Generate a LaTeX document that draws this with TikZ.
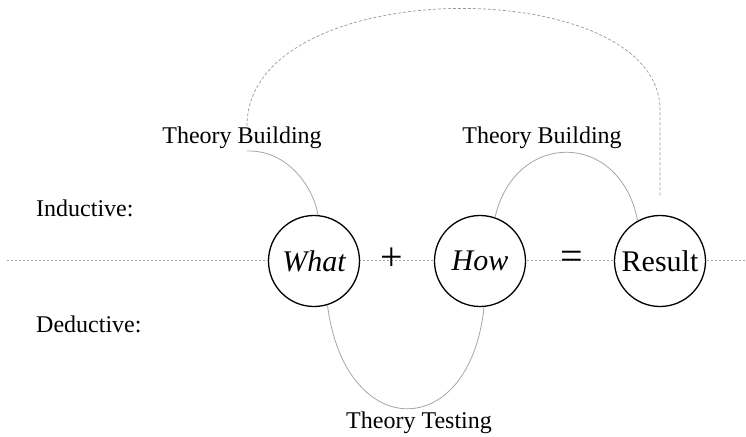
\documentclass[tikz,border=0pt]{standalone}
\usepackage{fontspec}
\setmainfont{Liberation Serif}
\begin{document}
\begin{tikzpicture}[x=1pt,y=-1pt,
  circ/.style={circle,draw=black,line width=1.3pt,fill=white,minimum size=91pt,inner sep=0pt,font=\fontsize{30}{34}\selectfont},
  lbl/.style={anchor=base,inner sep=0pt,font=\fontsize{24}{28}\selectfont},
  sidelbl/.style={anchor=base west,inner sep=0pt,font=\fontsize{24}{28}\selectfont},
  op/.style={inner sep=0pt,font=\fontsize{40}{44}\selectfont},
  axis/.style={draw=gray!70,line width=0.7pt,dash pattern=on 2pt off 2pt},
  loop/.style={draw=gray!80,line width=0.7pt,dash pattern=on 3pt off 2pt},
  arc/.style={draw=gray!70,line width=0.8pt}]
\useasboundingbox (0,0) rectangle (746,436);
% horizontal axis
\coordinate (axL) at (7,260);
\coordinate (axR) at (746,260);
\draw[axis] (axL) -- (axR);
% circles
\node[circ] (what) at (314,261) {\itshape What};
\node[circ] (how) at (480,261) {\itshape How};
\node[circ] (res) at (660,261) {Result};
\node[op] (plus) at (392,259) {+};
\node[op] (eq) at (572,260) {=};
% labels
\node[lbl] (tb1) at (242,143) {Theory Building};
\node[lbl] (tb2) at (542,143) {Theory Building};
\node[lbl] (tt) at (419,428) {Theory Testing};
\node[sidelbl] (ind) at (36,216) {Inductive:};
\node[sidelbl] (ded) at (36,332) {Deductive:};
% connectors
\coordinate (tb1s) at (247,151);
\draw[arc] (tb1s) .. controls (290,150) and (314,190) .. (what.85);
\draw[arc] (how.71) .. controls (515,130) and (620,130) .. (res.119);
\draw[arc] (what.-73) .. controls (345,443) and (470,443) .. (how.-85);
\coordinate (lpA) at (247,126);
\coordinate (lpB) at (660,196);
\coordinate (lpC) at (660,110);
\draw[loop] (lpA) .. controls (247,-28) and (660,-28) .. (lpC) -- (lpB);
\end{tikzpicture}
\end{document}
